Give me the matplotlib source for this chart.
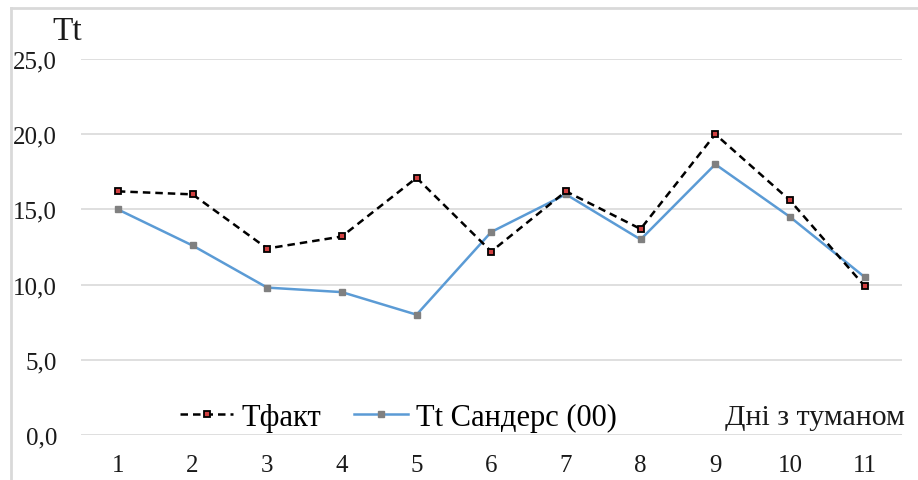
"""
Line chart: actual fog duration (Tфакт) vs Sanders estimate, per fog day.
"""
import matplotlib
matplotlib.use("Agg")
import matplotlib.pyplot as plt
from matplotlib.lines import Line2D
from matplotlib.ticker import FuncFormatter

# Data
days = [1, 2, 3, 4, 5, 6, 7, 8, 9, 10, 11]
t_fact = [16.2, 16.0, 12.4, 13.2, 17.1, 12.2, 16.2, 13.7, 20.0, 15.6, 9.9]
t_sanders = [15.0, 12.6, 9.8, 9.5, 8.0, 13.5, 16.0, 13.0, 18.0, 14.5, 10.5]
y_ticks = [0, 5, 10, 15, 20, 25]

plt.rcParams["font.family"] = ["Liberation Serif", "DejaVu Serif"]

W, H = 918, 481
fig = plt.figure(figsize=(W / 100, H / 100), dpi=100)

# axes placed in pixel terms of the reference
x0, x1 = 80.5, 902
y_top, y_bot = 60, 436
ax = fig.add_axes([x0 / W, 1 - y_bot / H, (x1 - x0) / W, (y_bot - y_top) / H])

blue = "#5B9BD5"
ax.plot(days, t_sanders, color=blue, lw=1.8, marker="s", ms=5,
        mfc="#808080", mec="#808080", zorder=3, label="Tt Сандерс (00)")
ax.plot(days, t_fact, color="black", lw=1.8, ls=(0, (3, 2)), marker="s", ms=4.5,
        mfc="#d04040", mec="black", mew=1.3, zorder=4, label="Tфакт")

ax.set_xlim(0.5, 11.5)
ax.set_ylim(0, 25)
ax.set_xticks(days)
ax.set_yticks(y_ticks)
ax.yaxis.set_major_formatter(FuncFormatter(lambda v, p: f"{v:.1f}".replace(".", ",")))
ax.tick_params(axis="both", length=0, labelsize=18, colors="#1a1a1a")
ax.tick_params(axis="x", pad=14)
ax.tick_params(axis="y", pad=17)

ax.grid(axis="y", color="#d9d9d9", lw=1.2)
ax.set_axisbelow(True)
for s in ax.spines.values():
    s.set_visible(False)

# legend (order: fact first)
h, l = ax.get_legend_handles_labels()
leg = ax.legend(h[::-1], l[::-1], ncol=2, frameon=False, fontsize=22,
                loc="center left", borderpad=0, borderaxespad=0,
                bbox_to_anchor=(180 / W, 1 - 418 / H), bbox_transform=fig.transFigure,
                handlelength=1.75, handletextpad=0.25, columnspacing=1.1)

fig.text(905 / W, 1 - 418 / H, "Дні з туманом", ha="right", va="center",
         fontsize=21.5, color="#1a1a1a")
fig.text(67 / W, 1 - 32 / H, "Tt", ha="center", va="center", fontsize=24, color="#1a1a1a")

# outer chart frame
fig.add_artist(Line2D([11 / W, 1], [1 - 8.5 / H, 1 - 8.5 / H], color="#d9d9d9", lw=2,
                      transform=fig.transFigure))
fig.add_artist(Line2D([11 / W, 11 / W], [0, 1 - 8.5 / H], color="#d9d9d9", lw=2,
                      transform=fig.transFigure))

fig.savefig("out.png", dpi=100)
